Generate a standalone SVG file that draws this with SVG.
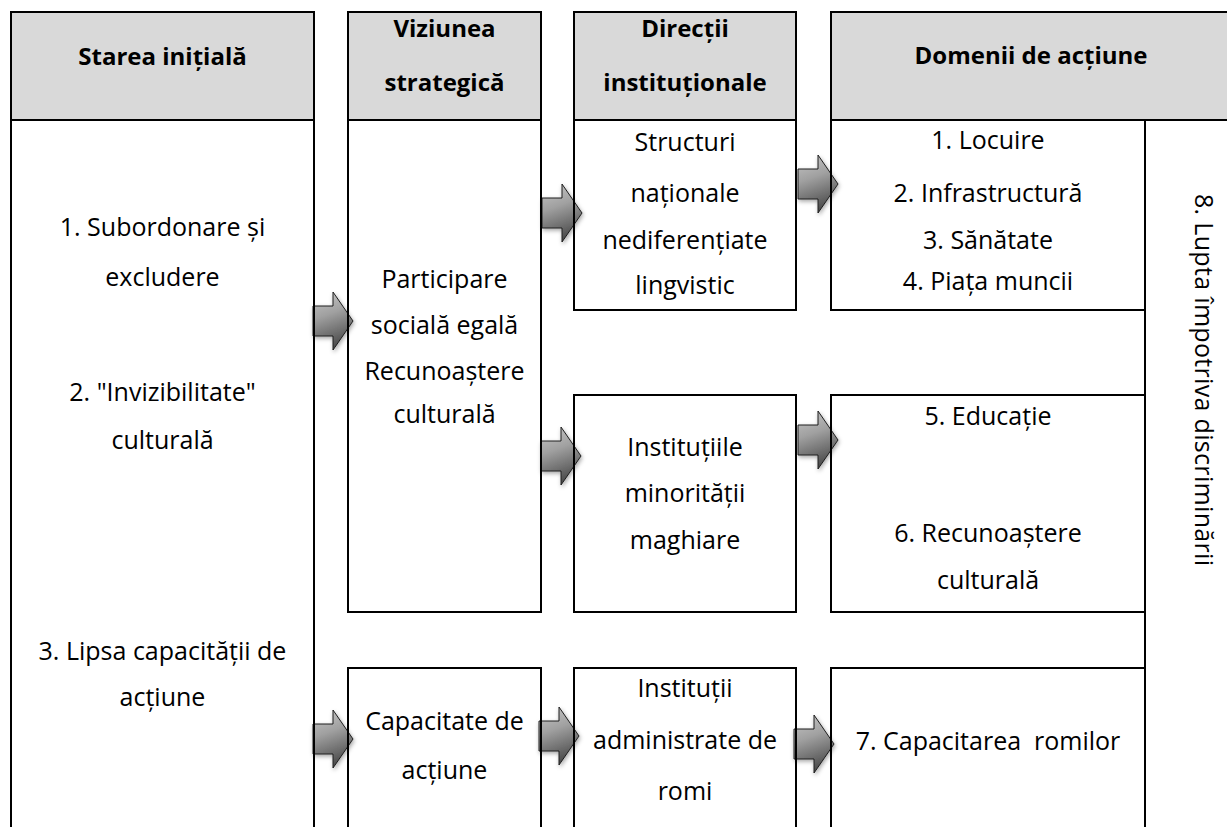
<svg xmlns="http://www.w3.org/2000/svg" width="1227" height="827" viewBox="0 0 1227 827">
<style>
.bx{fill:none;stroke:#000;stroke-width:2}
.hd{fill:#d9d9d9;stroke:#000;stroke-width:2}
.ln{stroke:#000;stroke-width:2;fill:none}
.t{font-family:'Open Sans',sans-serif;font-size:25px;fill:#000;text-anchor:middle;white-space:pre}
.h{font-weight:bold;font-size:24px}
.ar{fill:url(#ag);stroke:#1e1e1e;stroke-width:1;filter:url(#sh)}
</style>
<defs>
<linearGradient id="ag" x1="0" y1="0" x2="0.25" y2="1">
<stop offset="0" stop-color="#c8c8c8"/>
<stop offset="0.45" stop-color="#a0a0a0"/>
<stop offset="1" stop-color="#4e4e4e"/>
</linearGradient>
<filter id="sh" x="-30%" y="-30%" width="160%" height="160%">
<feDropShadow dx="1" dy="2" stdDeviation="2" flood-color="#000" flood-opacity="0.35"/>
</filter>
<path id="arrow" d="M-40,-15 H-20 V-29 L0,0 L-20,29 V15 H-40 Z"/>
</defs>
<rect x="0" y="0" width="1227" height="827" fill="#fff"/>
<g id="connectors">
<use href="#arrow" class="ar" transform="translate(353,321)"/>
<use href="#arrow" class="ar" transform="translate(582,213)"/>
<use href="#arrow" class="ar" transform="translate(838,184)"/>
<use href="#arrow" class="ar" transform="translate(581,456)"/>
<use href="#arrow" class="ar" transform="translate(838,440)"/>
<use href="#arrow" class="ar" transform="translate(353,739)"/>
<use href="#arrow" class="ar" transform="translate(579,736)"/>
<use href="#arrow" class="ar" transform="translate(834,744)"/>
</g>
<g id="col-starea">
<rect class="hd" x="11" y="12" width="303" height="108"/>
<path class="ln" d="M11,120 V840 M314,120 V840"/>
<text class="t h" x="162.5" y="65">Starea inițială</text>
<text class="t" x="162.5" y="236">1. Subordonare și</text>
<text class="t" x="162.5" y="286">excludere</text>
<text class="t" x="162.5" y="401">2. &quot;Invizibilitate&quot;</text>
<text class="t" x="162.5" y="449">culturală</text>
<text class="t" x="162.5" y="660">3. Lipsa capacității de</text>
<text class="t" x="162.5" y="706">acțiune</text>
</g>
<g id="col-viziunea">
<rect class="hd" x="348" y="12" width="193" height="108"/>
<text class="t h" x="444.5" y="37">Viziunea</text>
<text class="t h" x="444.5" y="91">strategică</text>
</g>
<g id="node-participare">
<rect class="bx" x="348" y="120" width="193" height="492"/>
<text class="t" x="444.5" y="288">Participare</text>
<text class="t" x="444.5" y="334">socială egală</text>
<text class="t" x="444.5" y="380">Recunoaștere</text>
<text class="t" x="444.5" y="423">culturală</text>
</g>
<g id="node-capacitate">
<rect class="bx" x="348" y="668" width="193" height="180"/>
<text class="t" x="444.5" y="730">Capacitate de</text>
<text class="t" x="444.5" y="779">acțiune</text>
</g>
<g id="col-directii">
<rect class="hd" x="574" y="12" width="222" height="108"/>
<text class="t h" x="685" y="37">Direcții</text>
<text class="t h" x="685" y="91">instituționale</text>
</g>
<g id="node-structuri">
<rect class="bx" x="574" y="120" width="222" height="190"/>
<text class="t" x="685" y="151">Structuri</text>
<text class="t" x="685" y="202">naționale</text>
<text class="t" x="685" y="249">nediferențiate</text>
<text class="t" x="685" y="294">lingvistic</text>
</g>
<g id="node-maghiare">
<rect class="bx" x="574" y="395" width="222" height="217"/>
<text class="t" x="685" y="456">Instituțiile</text>
<text class="t" x="685" y="502">minorității</text>
<text class="t" x="685" y="549">maghiare</text>
</g>
<g id="node-romi">
<rect class="bx" x="574" y="668" width="222" height="180"/>
<text class="t" x="685" y="697">Instituții</text>
<text class="t" x="685" y="749">administrate de</text>
<text class="t" x="685" y="800">romi</text>
</g>
<g id="col-domenii">
<rect class="hd" x="831" y="12" width="402" height="108"/>
<text class="t h" x="1031" y="64">Domenii de acțiune</text>
<path class="ln" d="M1145,120 V840"/>
<text class="t" transform="translate(1195,194) rotate(90)" style="text-anchor:start" textLength="372" lengthAdjust="spacing">8. Lupta împotriva discriminării</text>
</g>
<g id="node-domenii-1">
<rect class="bx" x="831" y="120" width="314" height="190"/>
<text class="t" x="988" y="149">1. Locuire</text>
<text class="t" x="988" y="202">2. Infrastructură</text>
<text class="t" x="988" y="249">3. Sănătate</text>
<text class="t" x="988" y="290">4. Piața muncii</text>
</g>
<g id="node-domenii-2">
<rect class="bx" x="831" y="395" width="314" height="217"/>
<text class="t" x="988" y="425">5. Educație</text>
<text class="t" x="988" y="542">6. Recunoaștere</text>
<text class="t" x="988" y="589">culturală</text>
</g>
<g id="node-domenii-3">
<rect class="bx" x="831" y="668" width="314" height="180"/>
<text class="t" x="988" y="750">7. Capacitarea  romilor</text>
</g>
</svg>
